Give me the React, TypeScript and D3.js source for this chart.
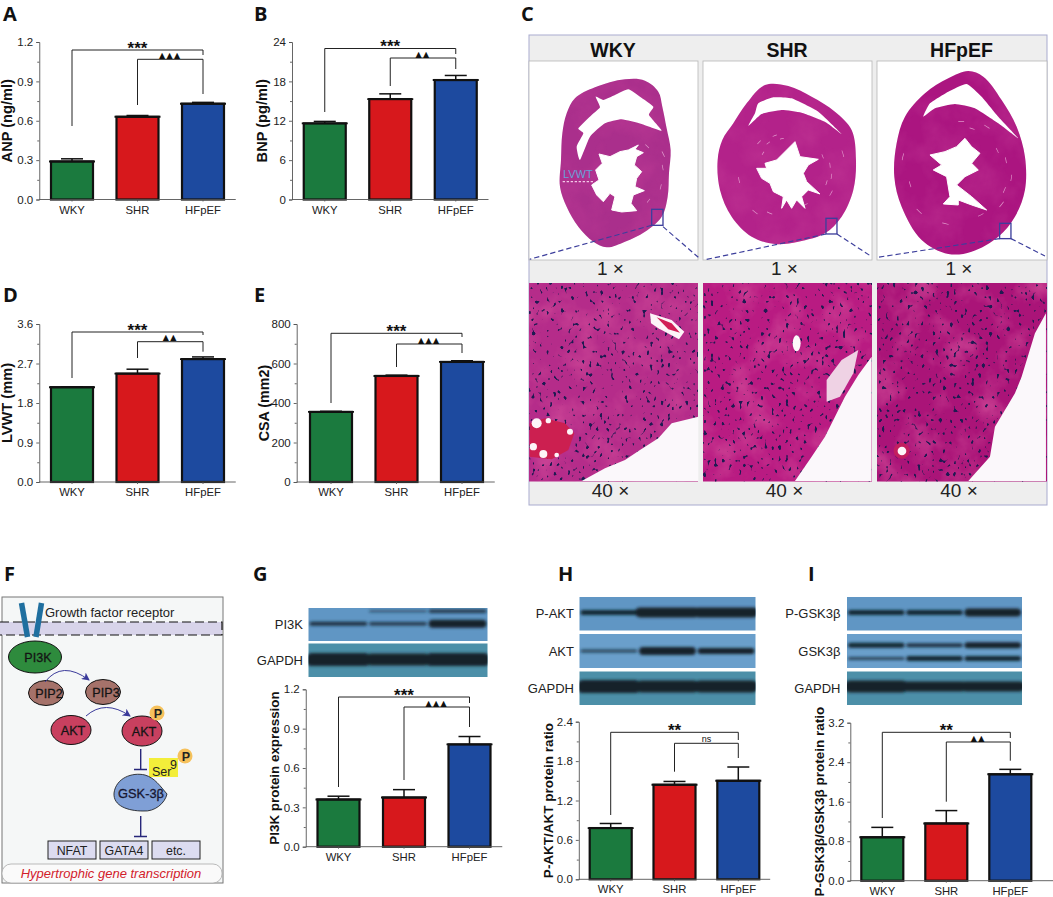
import React, { useEffect, useRef } from 'react';
import * as d3 from 'd3';

const groups = ['WKY', 'SHR', 'HFpEF'];
const barColors = ['#1b7a3e', '#d7181c', '#1d4a9f'];

const anpValues = [0.29, 0.63, 0.73];
const anpErrors = [0.02, 0.01, 0.01];
const anpTicks = [0, 0.3, 0.6, 0.9, 1.2];

const bnpValues = [11.6, 15.3, 18.2];
const bnpErrors = [0.3, 0.8, 0.7];
const bnpTicks = [0, 6, 12, 18, 24];

const lvwtValues = [2.16, 2.47, 2.8];
const lvwtErrors = [0.01, 0.1, 0.05];
const lvwtTicks = [0, 0.9, 1.8, 2.7, 3.6];

const csaValues = [355, 537, 608];
const csaErrors = [3, 4, 6];
const csaTicks = [0, 200, 400, 600, 800];

const pi3kValues = [0.36, 0.375, 0.78];
const pi3kErrors = [0.025, 0.06, 0.06];
const pi3kTicks = [0, 0.3, 0.6, 0.9, 1.2];

const aktValues = [0.78, 1.44, 1.5];
const aktErrors = [0.07, 0.05, 0.21];
const aktTicks = [0, 0.6, 1.2, 1.8, 2.4];

const gskValues = [0.88, 1.16, 2.155];
const gskErrors = [0.2, 0.26, 0.1];
const gskTicks = [0, 0.8, 1.6, 2.4, 3.2];

// western blot band thickness per lane
const pi3kBands = [4, 3.5, 8];
const pi3kUpperBands = [0, 2, 3.5];
const gapdhBandsG = [13, 12, 13];
const pAktBands = [5, 10, 10];
const aktBands = [3, 8, 6];
const gapdhBandsH = [13, 12, 12];
const pGskBands = [5, 5, 8];
const gskUpperBands = [5, 4, 6];
const gskLowerBands = [3, 5, 5];
const gapdhBandsI = [12, 10, 10];

// heart section outlines, traced in 3x crop coordinates
const wkyHeart = [[300,238],[360,242],[400,275],[412,320],[425,385],[437,450],[432,520],[428,590],[410,650],[360,695],[300,725],[245,742],[205,725],[160,680],[125,620],[105,560],[108,480],[112,400],[125,340],[150,295],[210,262]];
const wkyRv = [[310,268],[345,290],[385,320],[372,345],[410,392],[350,372],[290,358],[240,370],[195,410],[165,480],[155,440],[175,400],[160,385],[200,345],[225,322],[212,290],[235,300],[270,285]];
const wkyLv = [[340,435],[330,448],[355,458],[335,470],[328,495],[350,515],[335,535],[330,560],[358,572],[325,585],[318,610],[335,632],[290,636],[260,630],[270,590],[255,580],[235,605],[215,585],[200,555],[222,540],[212,510],[232,490],[222,462],[255,470],[285,455],[310,450]];
const shrHeart = [[720,255],[790,258],[860,290],[930,335],[980,390],[993,480],[985,570],[950,650],[900,700],[820,725],[750,732],[680,710],[620,650],[585,570],[578,480],[592,420],[625,370],[665,310]];
const shrRv = [[745,292],[800,295],[880,335],[950,402],[900,365],[830,338],[770,330],[710,342],[670,378],[690,340],[700,310]];
const shrLv = [[810,425],[825,470],[880,478],[850,495],[835,520],[845,545],[885,582],[850,570],[830,590],[840,625],[815,600],[800,625],[785,600],[770,625],[775,590],[745,575],[735,550],[710,535],[695,505],[725,505],[720,490],[755,480],[785,450]];
const hfHeart = [[1330,213],[1375,230],[1430,300],[1475,380],[1500,470],[1500,570],[1470,650],[1420,710],[1340,755],[1270,762],[1190,720],[1130,620],[1108,530],[1115,430],[1140,350],[1200,280],[1270,235]];
const hfRv = [[1325,252],[1370,290],[1420,350],[1480,415],[1420,370],[1350,325],[1290,312],[1230,325],[1195,350],[1215,310],[1270,275]];
const hfLv = [[1320,415],[1340,440],[1365,460],[1340,490],[1360,510],[1320,530],[1295,555],[1340,590],[1385,630],[1340,615],[1300,600],[1300,615],[1255,612],[1275,590],[1265,530],[1225,510],[1250,495],[1215,465],[1260,455],[1295,440]];

// radius, angle in degrees of the thin myofibre gaps round each cavity
const wkyStreaks = [[125, 40], [135, 75], [130, 100], [115, 125], [150, 60]];
const shrStreaks = [[90, -60], [100, -40], [110, -25], [120, -50], [95, -15], [110, 65], [125, 80], [130, 95], [120, 105], [115, 150], [140, 200], [160, 215], [150, 255], [145, 115], [170, 70]];
const hfStreaks = [[130, 60], [145, 75], [160, 95], [150, 110], [165, 125], [150, 150], [165, 190], [170, 220], [150, 250], [170, 280], [155, 30], [130, 15], [145, 0]];

const font = '"Liberation Sans", Arial, sans-serif';
const smooth = d3.line().curve(d3.curveCatmullRomClosed.alpha(0.5));
const soft = d3.line().curve(d3.curveCardinalClosed.tension(0.55));
const sharp = d3.line().curve(d3.curveLinearClosed);

interface ChartProps {
  x0: number; x1: number; axisX?: number; axisEnd?: number; top: number; bottom: number;
  values: number[]; errors: number[]; ticks: number[];
  decimals?: boolean; title: string; titleSize?: number; titleOffset?: number;
  outerY: number; innerY: number; legWky: number; legShr: number; legOuter: number; legInner: number;
  stars: string; inner: string;
}

const Chart: React.FC<ChartProps> = (p) => {
  const axisY = useRef<SVGGElement>(null);
  const axisX = useRef<SVGGElement>(null);
  const step = (p.x1 - p.x0) / 3;
  const inner = 1 - 42 / step;
  const x = d3.scaleBand().domain(groups).range([p.x0, p.x1]).paddingInner(inner).paddingOuter(inner / 2);
  const y = d3.scaleLinear().domain([0, p.ticks[p.ticks.length - 1]]).range([p.bottom, p.top]);
  const end = p.axisEnd ?? p.x1;
  const ax = p.axisX ?? p.x0;

  useEffect(() => {
    const fmt = p.decimals === false ? d3.format('d') : d3.format('.1f');
    const minor: number[] = [];
    p.ticks.slice(1).forEach((t, i) => minor.push((t + p.ticks[i]) / 2));
    const g = d3.select(axisY.current!);
    g.selectAll('*').remove();
    g.call(d3.axisLeft(y).tickValues(p.ticks).tickFormat((d) => fmt(d as number)).tickSize(3).tickPadding(3));
    g.append('g').call(d3.axisLeft(y).tickValues(minor).tickFormat(() => '').tickSize(2)).select('.domain').remove();
    g.selectAll('text').attr('font-size', 11.5).attr('font-family', font).attr('fill', '#222');
    g.selectAll('line,path').attr('stroke', '#555').attr('stroke-width', 0.9);
    const h = d3.select(axisX.current!);
    h.selectAll('*').remove();
    h.call(d3.axisBottom(x).tickSize(2).tickPadding(4));
    h.selectAll('text').attr('font-size', 11.3).attr('font-family', font).attr('fill', '#222');
    h.selectAll('line').attr('stroke', '#555').attr('stroke-width', 0.9);
    h.select('.domain').remove();
  }, []);

  const cx = (g: string) => (x(g) as number) + x.bandwidth() / 2;
  const [a, b, c] = groups.map(cx);
  const ns = p.inner === 'ns';
  return (
    <g>
      {groups.map((g, i) => {
        const top = y(p.values[i]);
        const errTop = y(p.values[i] + p.errors[i]);
        return (
          <g key={g}>
            <line x1={cx(g)} x2={cx(g)} y1={top} y2={errTop} stroke="#111" strokeWidth={1.5} />
            <line x1={cx(g) - 11} x2={cx(g) + 11} y1={errTop} y2={errTop} stroke="#111" strokeWidth={1.5} />
            <rect x={x(g)} y={top} width={x.bandwidth()} height={p.bottom - top} fill={barColors[i]} stroke="#111" strokeWidth={2.2} />
            <line x1={(x(g) as number) - 2} x2={(x(g) as number) + x.bandwidth() + 2} y1={top} y2={top} stroke="#111" strokeWidth={1.9} />
          </g>
        );
      })}
      <line x1={ax} x2={end} y1={p.bottom} y2={p.bottom} stroke="#555" strokeWidth={0.9} />
      <g ref={axisY} transform={`translate(${ax},0)`} />
      <g ref={axisX} transform={`translate(0,${p.bottom})`} />
      <text transform={`translate(${p.x0 - (p.titleOffset ?? 27)},${(p.top + p.bottom) / 2}) rotate(-90)`} textAnchor="middle" fontFamily={font} fontWeight="bold" fontSize={p.titleSize ?? 14.6} fill="#111">{p.title}</text>
      <path d={`M${a},${p.legWky}V${p.outerY}H${c}V${p.legOuter}`} fill="none" stroke="#222" strokeWidth={1} />
      <path d={`M${b},${p.legShr}V${p.innerY}H${c}V${p.legInner}`} fill="none" stroke="#222" strokeWidth={1} />
      <text x={(a + c) / 2} y={p.outerY + 3.5} textAnchor="middle" fontFamily={font} fontWeight="bold" fontSize={17} fill="#111">{p.stars}</text>
      <text x={(b + c) / 2} y={p.innerY - 1.5} textAnchor="middle" fontFamily={ns ? font : '"DejaVu Sans"'} fontSize={ns ? 9 : 8} letterSpacing={ns ? 0 : 1.4} fill="#111">{p.inner}</text>
    </g>
  );
};

const Blot: React.FC<{ x0: number; x1: number; y0: number; y1: number; label: string; labelX: number; bg: string; rows: { bands: number[]; at: number }[] }> = ({ x0, x1, y0, y1, label, labelX, bg, rows }) => {
  const lane = d3.scaleBand().domain(groups).range([x0 + 1, x1 - 1]).paddingInner(0.03);
  return (
    <g>
      <rect x={x0} y={y0} width={x1 - x0} height={y1 - y0} fill={bg} />
      <clipPath id={`blot${x0}${y0}`}><rect x={x0} y={y0} width={x1 - x0} height={y1 - y0} /></clipPath>
      <g clipPath={`url(#blot${x0}${y0})`}>
        <g filter="url(#blotBlur)">
          {rows.map((r, k) => r.bands.map((t, i) => {
            if (t <= 0) return null;
            const grow = t >= 10 ? 4 : 0;
            return <rect key={`${k}${i}`} x={(lane(groups[i]) as number) - grow} y={y0 + (y1 - y0) * r.at - t / 2} width={lane.bandwidth() + grow * 2} height={t} rx={t / 2} fill="#12202c" opacity={Math.min(1, 0.4 + t / 9)} />;
          }))}
        </g>
      </g>
      <text x={labelX} y={(y0 + y1) / 2 + 4.5} textAnchor="end" fontFamily={font} fontSize={13} fill="#222">{label}</text>
    </g>
  );
};

const Heart: React.FC<{ outline: number[][]; rv: number[][]; lv: number[][]; fill: string; center: number[]; streaks: number[][] }> = ({ outline, rv, lv, fill, center, streaks }) => {
  const arc = d3.arc();
  return (
    <g>
      <path d={smooth(outline as [number, number][])!} fill={fill} />
      <path d={smooth(outline as [number, number][])!} filter="url(#mottleHeart)" />
      <g transform={`translate(${center[0]},${center[1]})`} fill="#f0bfe2" opacity={0.75}>
        {streaks.map(([r, deg], i) => {
          const a0 = (deg * Math.PI) / 180;
          return <path key={i} d={arc({ innerRadius: r, outerRadius: r + 2, startAngle: a0, endAngle: a0 + 0.12 })!} />;
        })}
      </g>
      <path d={soft(rv as [number, number][])!} fill="#fff" />
      <path d={sharp(lv as [number, number][])!} fill="#fff" stroke="#fff" strokeWidth={3} strokeLinejoin="round" />
    </g>
  );
};

const Tissue: React.FC<{ x: number; w: number; fill: string }> = ({ x, w, fill }) => (
  <g>
    <rect x={x} y={283} width={w} height={198.5} fill={fill} />
    <rect x={x} y={283} width={w} height={198.5} filter="url(#mottle)" />
    <rect x={x} y={283} width={w} height={198.5} filter="url(#nuclei)" />
  </g>
);

const PanelLetter: React.FC<{ x: number; y: number; t: string }> = ({ x, y, t }) => (
  <text x={x} y={y} fontFamily='"Open Sans", sans-serif' fontWeight="bold" fontSize={20} fill="#111">{t}</text>
);

const Node: React.FC<{ cx: number; cy: number; rx: number; ry: number; fill: string; t: string; tx?: number }> = ({ cx, cy, rx, ry, fill, t, tx }) => (
  <g>
    <ellipse cx={cx} cy={cy} rx={rx} ry={ry} fill={fill} stroke="#111" strokeWidth={1} />
    <text x={tx ?? cx} y={cy + 4.5} textAnchor="middle" fontFamily={font} fontSize={12.6} stroke="#111" strokeWidth={0.3} fill="#161616">{t}</text>
  </g>
);

const Pathway: React.FC = () => (
  <g>
    <rect x={2} y={597} width={221} height={286} fill="#f5f7f7" stroke="#777" strokeWidth={1} />
    <rect x={0} y={622} width={222} height={13} fill="#d8d4ea" />
    <path d="M0,622H222V635H0" fill="none" stroke="#111" strokeWidth={1.2} strokeDasharray="9 4" />
    <line x1={21.5} y1={603} x2={27.5} y2={637} stroke="#1f6f9f" strokeWidth={5.5} />
    <line x1={41.5} y1={603} x2={36} y2={637} stroke="#1f6f9f" strokeWidth={5.5} />
    <text x={45} y={617} fontFamily={font} fontSize={13} fill="#222">Growth factor receptor</text>
    <Node cx={35} cy={657} rx={26.5} ry={16} fill="#2e8b3d" t="PI3K" tx={38} />
    <Node cx={46} cy={693} rx={17.5} ry={12.5} fill="#a5726a" t="PIP2" tx={49} />
    <Node cx={103} cy={692} rx={17.5} ry={12.5} fill="#a5726a" t="PIP3" tx={106} />
    <Node cx={71} cy={730} rx={20} ry={14.5} fill="#c8405f" t="AKT" tx={73} />
    <Node cx={142} cy={731} rx={20} ry={15} fill="#c8405f" t="AKT" tx={144} />
    <path d="M45,682Q62,660 89,680" fill="none" stroke="#3a3a9a" strokeWidth={1} markerEnd="url(#arrow)" />
    <path d="M86,716Q105,699 130,716" fill="none" stroke="#3a3a9a" strokeWidth={1} markerEnd="url(#arrow)" />
    <circle cx={157} cy={713} r={7.5} fill="#f6c15c" />
    <text x={158} y={718} textAnchor="middle" fontFamily={font} fontWeight="bold" fontSize={12.5} fill="#222">P</text>
    <rect x={149} y={758} width={29} height={19} fill="#f3ee3a" />
    <text x={152} y={776} fontFamily={font} fontSize={12.5} fill="#222">Ser</text>
    <text x={170} y={769} fontFamily={font} fontSize={12.5} fill="#222">9</text>
    <circle cx={185} cy={756} r={7.5} fill="#f6c15c" />
    <text x={186} y={761} textAnchor="middle" fontFamily={font} fontWeight="bold" fontSize={12.5} fill="#222">P</text>
    <path d="M140.7,749V769M134,769.5H147M140.7,816V836M134,836.5H147" fill="none" stroke="#27277a" strokeWidth={1.4} />
    <path d="M114,793C116,778 132,772 145,775C155,778 160,786 167,794C165,803 155,812 143,811C128,811 113,806 114,793Z" fill="#7f9fd6" stroke="#111" strokeWidth={0.8} />
    <text x={141} y={798} textAnchor="middle" fontFamily={font} fontSize={12.8} stroke="#161630" strokeWidth={0.3} fill="#161630">GSK-3β</text>
    {[['NFAT', 48], ['GATA4', 100], ['etc.', 152]].map(([t, bx]) => (
      <g key={t as string}>
        <rect x={bx as number} y={841} width={48} height={18} fill="#dcdcf0" stroke="#222" strokeWidth={1} />
        <text x={(bx as number) + 24} y={854.5} textAnchor="middle" fontFamily={font} fontSize={12.4} fill="#222">{t}</text>
      </g>
    ))}
    <rect x={2} y={864} width={220} height={19} rx={9} fill="#fafafa" stroke="#aaa" strokeWidth={0.8} />
    <text x={111} y={878} textAnchor="middle" fontFamily={font} fontStyle="italic" fontSize={13} fill="#d2202a">Hypertrophic gene transcription</text>
  </g>
);

const HistologyPanel: React.FC = () => {
  const cols = [{ x: 529, w: 169 }, { x: 703, w: 169 }, { x: 877, w: 170 }];
  const tissue = ['#b52c8a', '#b91b82', '#aa1478'];
  const heartFill = ['#aa2f8c', '#b3228a', '#ab1580'];
  return (
    <g>
      <rect x={529} y={35} width={518} height={470} fill="#eeeeee" stroke="#a9abcf" strokeWidth={1} />
      {cols.map((c, i) => (
        <g key={i}>
          <rect x={c.x} y={61} width={c.w} height={199} fill="#fff" stroke="#b6b6b6" strokeWidth={0.8} />
          <text x={c.x + c.w / 2 - 0.5} y={57} textAnchor="middle" fontFamily={font} fontWeight="bold" fontSize={19.5} fill="#111">{groups[i]}</text>
          <text x={c.x + c.w / 2 - 3} y={275} textAnchor="middle" fontFamily={font} fontSize={19} fill="#222">1 ×</text>
          <Tissue x={c.x} w={c.w} fill={tissue[i]} />
          <text x={c.x + c.w / 2 - 3} y={497} textAnchor="middle" fontFamily={font} fontSize={19} fill="#222">40 ×</text>
        </g>
      ))}
      <g transform="translate(525,0) scale(0.3333)">
        <Heart outline={wkyHeart} rv={wkyRv} lv={wkyLv} fill={heartFill[0]} center={[280, 530]} streaks={wkyStreaks} />
        <Heart outline={shrHeart} rv={shrRv} lv={shrLv} fill={heartFill[1]} center={[790, 510]} streaks={shrStreaks} />
        <Heart outline={hfHeart} rv={hfRv} lv={hfLv} fill={heartFill[2]} center={[1300, 510]} streaks={hfStreaks} />
        <g fill="none" stroke="#3d3f9c" strokeWidth={4}>
          <rect x={380} y={628} width={34} height={48} />
          <rect x={903} y={655} width={33} height={47} />
          <rect x={1424} y={670} width={34} height={46} />
        </g>
        <g fill="none" stroke="#3d3f9c" strokeWidth={3.5} strokeDasharray="16 9">
          <path d="M380,676L14,778M414,680L520,772" />
          <path d="M903,702L537,780M936,702L1040,770" />
          <path d="M1424,716L1058,772M1458,716L1560,768" />
        </g>
        <line x1={113} x2={205} y1={545} y2={545} stroke="#f3c9e8" strokeWidth={4} strokeDasharray="7 5" />
        <text x={114} y={533} fontFamily={font} fontSize={33} fill="#6aa0d8">LVWT</text>
      </g>
      <g transform="translate(525,260) scale(0.3333)">
        <polygon points="170,663 240,625 300,600 345,570 400,535 440,490 520,470 520,663" fill="#fbf8fb" />
        <polygon points="810,663 860,590 900,530 930,470 960,410 1000,345 1040,290 1040,663" fill="#fbf8fb" />
        <polygon points="1330,663 1395,590 1410,500 1470,400 1490,350 1530,220 1563,160 1563,663" fill="#fbf8fb" />
        <path d="M375,160L440,180L478,215L462,238L400,205L378,190Z" fill="#fdf4f8" />
        <path d="M395,172L440,190L465,218L430,208Z" fill="#d11f56" />
        <path d="M14,490L60,475L120,490L148,520L130,570L80,598L14,590Z" fill="#cc1f50" />
        <g fill="#fdf4f8">
          <circle cx={35} cy={490} r={15} />
          <circle cx={70} cy={482} r={8} />
          <circle cx={135} cy={515} r={9} />
          <circle cx={25} cy={560} r={11} />
          <circle cx={55} cy={582} r={12} />
          <circle cx={95} cy={585} r={7} />
        </g>
        <ellipse cx={815} cy={250} rx={12} ry={24} fill="#fdf8fa" />
        <path d="M905,360L950,300L1000,270L985,340L945,410L905,425Z" fill="#efd2e4" />
        <circle cx={1130} cy={572} r={24} fill="#c31f5f" />
        <circle cx={1131} cy={573} r={13} fill="#fdf8fa" />
      </g>
    </g>
  );
};

export default function App() {
  const blue = '#6096c4';
  const teal = '#4c8fa8';
  return (
    <svg width={1053} height={897} viewBox="0 0 1053 897" style={{ position: 'absolute', left: 0, top: 0, background: '#fff' }}>
      <defs>
        <filter id="blotBlur" x="-5%" y="-50%" width="110%" height="200%"><feGaussianBlur stdDeviation="1.4" /></filter>
        <filter id="nuclei" x="0" y="0" width="100%" height="100%" colorInterpolationFilters="sRGB">
          <feTurbulence type="fractalNoise" baseFrequency="0.28 0.22" numOctaves="1" seed="7" />
          <feColorMatrix values="0 0 0 0 0.12  0 0 0 0 0.1  0 0 0 0 0.32  14 0 0 0 -8.9" />
          <feComposite in2="SourceAlpha" operator="in" />
        </filter>
        <filter id="mottle" x="0" y="0" width="100%" height="100%" colorInterpolationFilters="sRGB">
          <feTurbulence type="fractalNoise" baseFrequency="0.03" numOctaves="4" seed="3" />
          <feColorMatrix values="0 0 0 0 0.82  0 0 0 0 0.3  0 0 0 0 0.6  1.6 0 0 0 -0.7" />
          <feComposite in2="SourceAlpha" operator="in" />
        </filter>
        <filter id="mottleHeart" x="0" y="0" width="100%" height="100%" colorInterpolationFilters="sRGB">
          <feTurbulence type="fractalNoise" baseFrequency="0.01" numOctaves="4" seed="9" />
          <feColorMatrix values="0 0 0 0 0.78  0 0 0 0 0.25  0 0 0 0 0.6  0.8 0 0 0 -0.3" />
          <feComposite in2="SourceAlpha" operator="in" />
        </filter>
        <marker id="arrow" viewBox="0 0 8 8" refX="7" refY="4" markerWidth="8" markerHeight="8" orient="auto">
          <path d="M0,0L8,4L0,8L2,4Z" fill="#3a3a9a" />
        </marker>
      </defs>

      <PanelLetter x={3} y={21} t="A" />
      <PanelLetter x={254} y={21} t="B" />
      <PanelLetter x={521} y={21} t="C" />
      <PanelLetter x={3} y={301.5} t="D" />
      <PanelLetter x={254} y={301.5} t="E" />
      <PanelLetter x={4} y={581} t="F" />
      <PanelLetter x={253} y={581} t="G" />
      <PanelLetter x={558} y={581} t="H" />
      <PanelLetter x={808} y={581} t="I" />

      <Chart x0={39.25} x1={235.75} top={42} bottom={199.5} values={anpValues} errors={anpErrors} ticks={anpTicks} title="ANP (ng/ml)" outerY={50} innerY={59.3} legWky={126} legShr={105} legOuter={55} legInner={94} stars="***" inner="▲▲▲" />
      <Chart x0={292} x1={488.5} top={42} bottom={199.5} values={bnpValues} errors={bnpErrors} ticks={bnpTicks} decimals={false} title="BNP (pg/ml)" titleOffset={25} outerY={48.5} innerY={58} legWky={112} legShr={86} legOuter={54} legInner={69} stars="***" inner="▲▲" />
      <Chart x0={39.25} x1={235.75} top={324} bottom={482} values={lvwtValues} errors={lvwtErrors} ticks={lvwtTicks} title="LVWT (mm)" outerY={332} innerY={341.7} legWky={378} legShr={358} legOuter={335} legInner={351.7} stars="***" inner="▲▲" />
      <Chart x0={298.25} x1={494.75} axisX={296.7} top={324} bottom={482} values={csaValues} errors={csaErrors} ticks={csaTicks} decimals={false} title="CSA (mm2)" titleOffset={29.5} titleSize={14.3} outerY={333.3} innerY={344} legWky={403} legShr={367} legOuter={337} legInner={353} stars="***" inner="▲▲▲" />

      <HistologyPanel />
      <Pathway />

      <Blot x0={308.5} x1={487.5} y0={608} y1={641} label="PI3K" labelX={303} bg={blue} rows={[{ bands: pi3kBands, at: 0.48 }, { bands: pi3kUpperBands, at: 0.1 }]} />
      <Blot x0={308.5} x1={487.5} y0={643.5} y1={677} label="GAPDH" labelX={303} bg={teal} rows={[{ bands: gapdhBandsG, at: 0.48 }]} />
      <Chart x0={305.75} x1={502.25} top={689.3} bottom={846.7} values={pi3kValues} errors={pi3kErrors} ticks={pi3kTicks} title="PI3K protein expression" titleSize={13.4} titleOffset={26.75} outerY={697} innerY={707} legWky={787} legShr={780} legOuter={703} legInner={727} stars="***" inner="▲▲▲" />

      <Blot x0={579.5} x1={755.5} y0={597} y1={630.5} label="P-AKT" labelX={574} bg={blue} rows={[{ bands: pAktBands, at: 0.46 }]} />
      <Blot x0={579.5} x1={755.5} y0={634} y1={668} label="AKT" labelX={574} bg="#6a9fcb" rows={[{ bands: aktBands, at: 0.5 }]} />
      <Blot x0={579.5} x1={755.5} y0={671.5} y1={705} label="GAPDH" labelX={574} bg={teal} rows={[{ bands: gapdhBandsH, at: 0.45 }]} />
      <Chart x0={578.8} x1={770.2} top={721.7} bottom={879.3} values={aktValues} errors={aktErrors} ticks={aktTicks} title="P-AKT/AKT protein ratio" titleSize={13.5} titleOffset={25.8} outerY={732.3} innerY={743.3} legWky={815} legShr={771.7} legOuter={740} legInner={758} stars="**" inner="ns" />

      <Blot x0={847} x1={1022} y0={597} y1={630.5} label="P-GSK3β" labelX={840.5} bg={blue} rows={[{ bands: pGskBands, at: 0.46 }]} />
      <Blot x0={847} x1={1022} y0={634} y1={668} label="GSK3β" labelX={840.5} bg="#6a9fcb" rows={[{ bands: gskUpperBands, at: 0.33 }, { bands: gskLowerBands, at: 0.72 }]} />
      <Blot x0={847} x1={1022} y0={671.5} y1={705} label="GAPDH" labelX={840.5} bg={teal} rows={[{ bands: gapdhBandsI, at: 0.45 }]} />
      <Chart x0={850.3} x1={1042.3} axisEnd={1053} top={722.7} bottom={880.7} values={gskValues} errors={gskErrors} ticks={gskTicks} title="P-GSK3β/GSK3β protein ratio" titleSize={13.5} titleOffset={26.3} outerY={732.3} innerY={742} legWky={818} legShr={801.7} legOuter={738} legInner={760.7} stars="**" inner="▲▲" />
    </svg>
  );
}
